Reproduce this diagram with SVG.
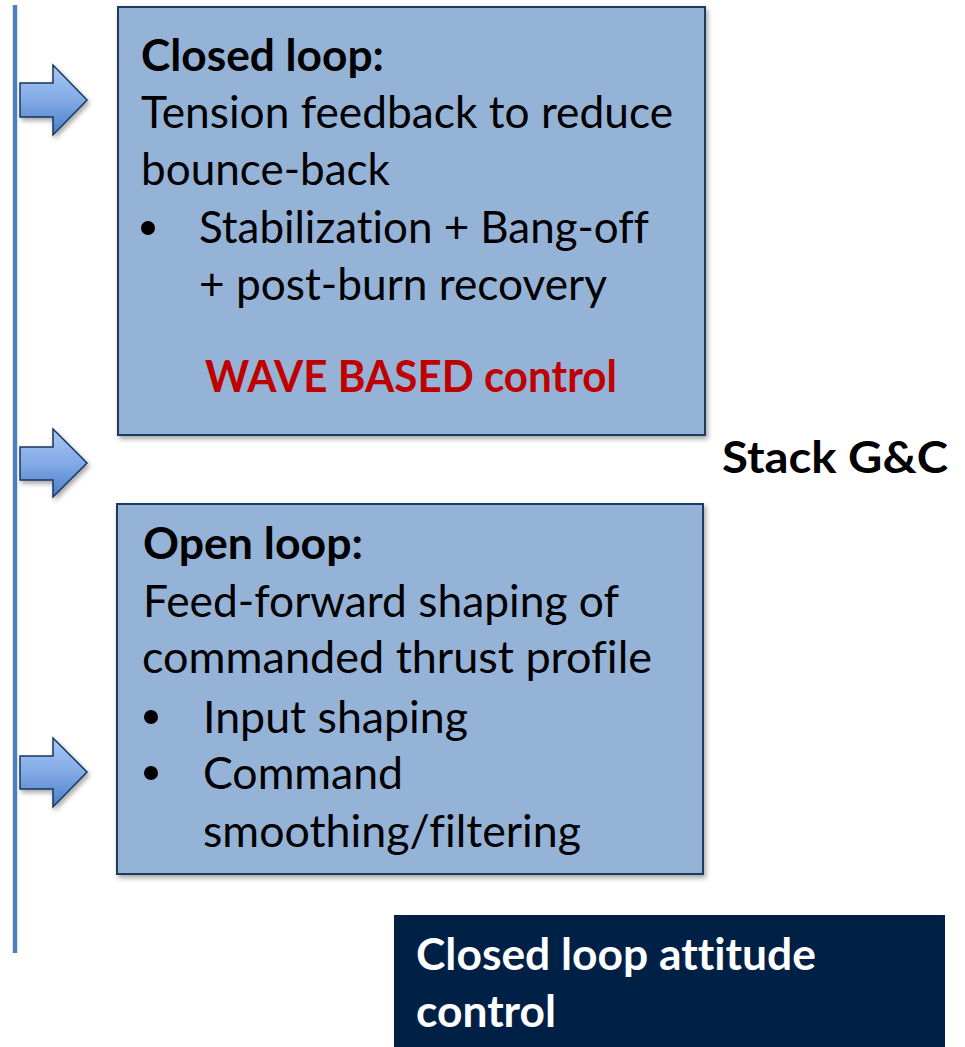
<svg xmlns="http://www.w3.org/2000/svg" width="965" height="1047" viewBox="0 0 965 1047">
<defs>
<linearGradient id="ag" x1="0" y1="0" x2="0" y2="1">
<stop offset="0" stop-color="#A9C8F5"/>
<stop offset="0.5" stop-color="#82AAE6"/>
<stop offset="1" stop-color="#4A7EC8"/>
</linearGradient>
<filter id="sh" x="-5%" y="-5%" width="115%" height="115%">
<feDropShadow dx="2" dy="3" stdDeviation="2.5" flood-color="#000" flood-opacity="0.35"/>
</filter>
</defs>
<style>
.box{fill:#95B3D7;stroke:#1F3A60;stroke-width:2}
.arr{fill:url(#ag);stroke:#17375E;stroke-width:1.5;stroke-linejoin:miter}
.t{font-family:Lato,"Open Sans","Liberation Sans",sans-serif;font-size:44px;fill:#000;font-variant-ligatures:none}
.b{font-weight:bold}
.red{fill:#C00000}
.w{fill:#fff}
</style>
<rect width="965" height="1047" fill="#fff"/>
<g id="connectors">
<line x1="15" y1="5" x2="15" y2="953" stroke="#4F81BD" stroke-width="4.5"/>
<path class="arr" filter="url(#sh)" d="M20,83 H53 V65 L87,100 L53,135 V117 H20 Z"/>
<path class="arr" filter="url(#sh)" d="M20,447 H53 V429 L87,463 L53,497 V480 H20 Z"/>
<path class="arr" filter="url(#sh)" d="M20,756 H53 V738 L87,772 L53,807 V789 H20 Z"/>
</g>
<g id="closed-loop">
<rect class="box" filter="url(#sh)" x="118" y="7" width="587" height="428"/>
<text class="t b" x="141" y="71" textLength="243" lengthAdjust="spacingAndGlyphs">Closed loop:</text>
<text class="t" x="141" y="128" textLength="532" lengthAdjust="spacingAndGlyphs">Tension feedback to reduce</text>
<text class="t" x="141" y="185" textLength="249" lengthAdjust="spacingAndGlyphs">bounce-back</text>
<circle cx="148" cy="228" r="7"/>
<text class="t" x="199" y="243" textLength="450" lengthAdjust="spacingAndGlyphs">Stabilization + Bang-off</text>
<text class="t" x="199" y="300" textLength="408" lengthAdjust="spacingAndGlyphs">+ post-burn recovery</text>
<text class="t b red" x="205" y="392" textLength="412" lengthAdjust="spacingAndGlyphs">WAVE BASED control</text>
</g>
<g id="open-loop">
<rect class="box" filter="url(#sh)" x="117" y="504" width="586" height="370"/>
<text class="t b" x="143" y="559" textLength="220" lengthAdjust="spacingAndGlyphs">Open loop:</text>
<text class="t" x="143" y="617" textLength="476" lengthAdjust="spacingAndGlyphs">Feed-forward shaping of</text>
<text class="t" x="142" y="673" textLength="510" lengthAdjust="spacingAndGlyphs">commanded thrust profile</text>
<circle cx="151" cy="717" r="7"/>
<text class="t" x="203" y="733" textLength="265" lengthAdjust="spacingAndGlyphs">Input shaping</text>
<circle cx="151" cy="773" r="7"/>
<text class="t" x="203" y="789" textLength="200" lengthAdjust="spacingAndGlyphs">Command</text>
<text class="t" x="203" y="847" textLength="378" lengthAdjust="spacingAndGlyphs">smoothing/filtering</text>
</g>
<g id="stack-gc">
<text class="t b" x="722" y="473" textLength="226" lengthAdjust="spacingAndGlyphs">Stack G&amp;C</text>
</g>
<g id="attitude">
<rect x="394" y="915" width="551" height="132" fill="#002045"/>
<text class="t b w" x="416" y="970" textLength="400" lengthAdjust="spacingAndGlyphs">Closed loop attitude</text>
<text class="t b w" x="416" y="1027" textLength="140" lengthAdjust="spacingAndGlyphs">control</text>
</g>
</svg>
